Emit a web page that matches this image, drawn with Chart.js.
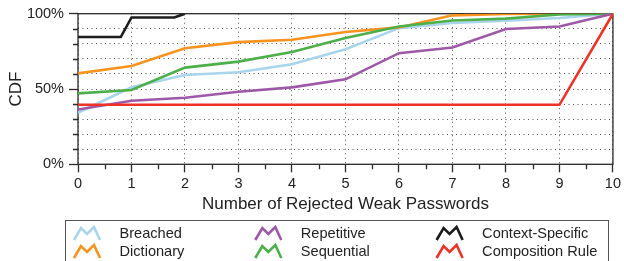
<!DOCTYPE html>
<html>
<head>
<meta charset="utf-8">
<script src="https://cdn.jsdelivr.net/npm/chart.js@4/dist/chart.umd.min.js"></script>
<style>
  html, body { margin: 0; padding: 0; background: #fff; }
</style>
</head>
<body>
<canvas id="cdfChart" width="624" height="261"></canvas>
<script>
// number of rejected weak passwords (x) and CDF per category
const rejected = [0, 1, 2, 3, 4, 5, 6, 7, 8, 9, 10];
const breached   = [0.342, 0.511, 0.593, 0.611, 0.664, 0.764, 0.904, 0.938, 0.953, 0.971, 1.0];
const dictionary = [0.604, 0.653, 0.771, 0.811, 0.827, 0.878, 0.909, 0.989, 0.998, 1.0, 1.0];
const repetitive = [0.364, 0.422, 0.442, 0.482, 0.511, 0.564, 0.738, 0.776, 0.898, 0.915, 1.0];
const sequential = [0.471, 0.493, 0.642, 0.682, 0.745, 0.838, 0.915, 0.955, 0.967, 0.995, 1.0];
const composition = [0.395, 0.395, 0.395, 0.395, 0.395, 0.395, 0.395, 0.395, 0.395, 0.395, 1.0];
// context-specific has its own x points
const contextX = [0, 0.8, 1, 1.8, 2];
const contextSpecific = [0.845, 0.845, 0.975, 0.975, 1.0];

const yLabels = ["0%", "50%", "100%"];
const legendOrder = ["Breached", "Dictionary", "Repetitive", "Sequential", "Context-Specific", "Composition Rule"];

const colors = {
  "Breached": "#a8d4ec",
  "Dictionary": "#f7931e",
  "Repetitive": "#9e58a8",
  "Sequential": "#4caf4a",
  "Context-Specific": "#1c1c1c",
  "Composition Rule": "#ee3326"
};

const FONT = "'Liberation Sans', Arial, Helvetica, sans-serif";
const pts = (xs, ys) => xs.map((x, i) => ({ x: x, y: ys[i] }));

function line(label, data) {
  return {
    label: label,
    data: data,
    borderColor: colors[label],
    backgroundColor: colors[label],
    borderWidth: 2.6,
    pointRadius: 0,
    tension: 0,
    fill: false
  };
}

// frame box + minor ticks on both axes
const framePlugin = {
  id: "frame",
  beforeDatasetsDraw(chart) {
    const { ctx, chartArea: a, scales: { x, y } } = chart;
    ctx.save();
    ctx.strokeStyle = "#2a2a2a";
    ctx.lineWidth = 1.3;
    ctx.beginPath();
    for (let v = 0.5; v < 10; v += 1) {
      const px = Math.round(x.getPixelForValue(v)) + 0.5;
      ctx.moveTo(px, a.bottom);
      ctx.lineTo(px, a.bottom + 5);
    }
    for (let k = 1; k < 10; k++) {
      if (k === 5) continue;
      const py = Math.round(y.getPixelForValue(k / 10)) + 0.5;
      ctx.moveTo(a.left - 5, py);
      ctx.lineTo(a.left, py);
    }
    ctx.stroke();
    ctx.strokeRect(a.left, a.top, a.right - a.left, a.bottom - a.top);
    ctx.restore();
  },
  afterDraw(chart) {
    const ctx = chart.ctx;
    ctx.save();
    ctx.strokeStyle = "#555";
    ctx.lineWidth = 1;
    ctx.strokeRect(65.5, 220.5, 543, 45);
    ctx.font = "14.6px " + FONT;
    ctx.fillStyle = "#222";
    ctx.textBaseline = "alphabetic";
    legendOrder.forEach((name, i) => {
      const col = Math.floor(i / 2), row = i % 2;
      const ix = 74 + col * 181.3;
      const iy = 227 + row * 18;
      ctx.strokeStyle = colors[name];
      ctx.lineWidth = 2.6;
      ctx.lineJoin = "miter";
      ctx.beginPath();
      ctx.moveTo(ix, iy + 13);
      ctx.lineTo(ix + 7, iy + 1);
      ctx.lineTo(ix + 13, iy + 7);
      ctx.lineTo(ix + 20, iy);
      ctx.lineTo(ix + 26, iy + 13);
      ctx.stroke();
      ctx.fillText(name, ix + 45.5, 237.5 + row * 18);
    });
    ctx.restore();
  }
};

const dotted = "rgba(40,40,40,0.8)";

new Chart(document.getElementById("cdfChart"), {
  type: "line",
  data: {
    datasets: [
      line("Context-Specific", pts(contextX, contextSpecific)),
      line("Composition Rule", pts(rejected, composition)),
      line("Repetitive", pts(rejected, repetitive)),
      line("Sequential", pts(rejected, sequential)),
      line("Dictionary", pts(rejected, dictionary)),
      line("Breached", pts(rejected, breached))
    ]
  },
  options: {
    responsive: false,
    animation: false,
    layout: { padding: { top: 13, right: 10, bottom: 46.7, left: 0 } },
    plugins: {
      legend: { display: false },
      tooltip: { enabled: false }
    },
    scales: {
      x: {
        type: "linear",
        min: 0,
        max: 10,
        afterFit: s => { s.height = 50; },
        border: { display: false, dash: [1, 3.5] },
        grid: {
          color: dotted,
          lineWidth: 1,
          tickLength: 8,
          tickColor: "#2a2a2a",
          tickWidth: 1.3,
          tickBorderDash: []
        },
        ticks: {
          stepSize: 1,
          padding: 3,
          color: "#222",
          font: { family: FONT, size: 14.5 }
        },
        title: {
          display: true,
          text: "Number of Rejected Weak Passwords",
          color: "#222",
          padding: { top: 0, bottom: 0 },
          font: { family: FONT, size: 17 }
        }
      },
      y: {
        min: 0,
        max: 1,
        afterFit: s => { s.width = 78; },
        border: { display: false, dash: [1, 3.5] },
        grid: {
          color: dotted,
          lineWidth: 1,
          tickLength: 9,
          tickWidth: 1.3,
          tickBorderDash: [],
          tickColor: c => (Math.round(c.tick.value * 100) % 50 === 0 ? "#2a2a2a" : "transparent")
        },
        ticks: {
          stepSize: 0.1,
          autoSkip: false,
          padding: 5,
          color: "#222",
          font: { family: FONT, size: 14.5 },
          callback: v => {
            const p = Math.round(v * 100);
            return p % 50 === 0 ? yLabels[p / 50] : "";
          }
        },
        title: {
          display: true,
          text: "CDF",
          color: "#222",
          padding: { top: 6.5, bottom: 0 },
          font: { family: FONT, size: 17 }
        }
      }
    }
  },
  plugins: [framePlugin]
});
</script>
</body>
</html>
